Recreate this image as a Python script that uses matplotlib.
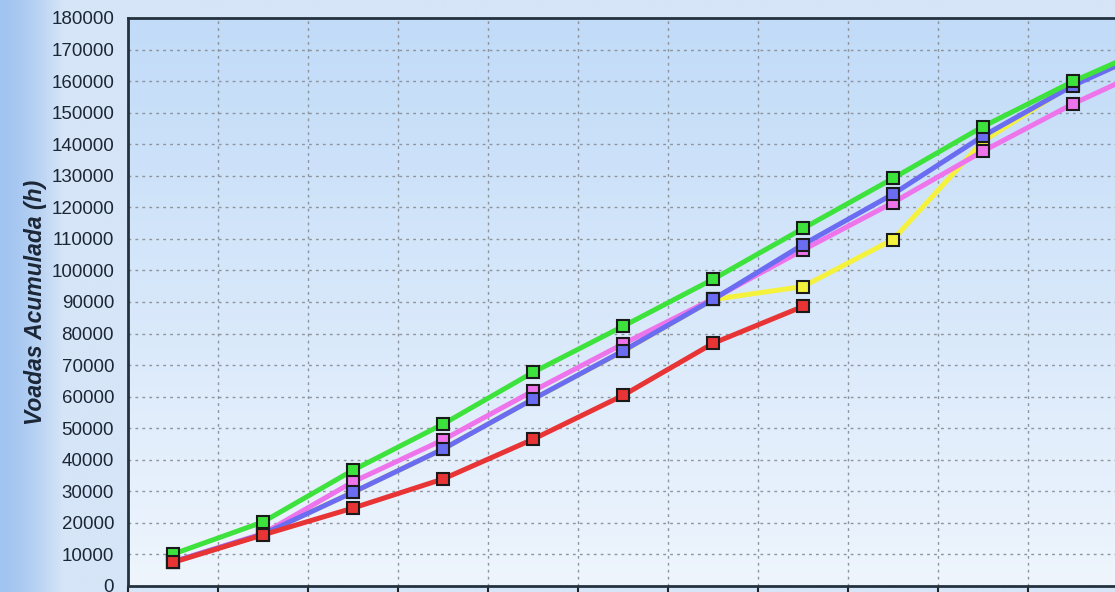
import numpy as np
import matplotlib
matplotlib.use("Agg")
import matplotlib.pyplot as plt
from matplotlib.colors import LinearSegmentedColormap

plt.rcParams['font.family'] = ['Liberation Sans', 'DejaVu Sans']

# ---- data ----
categories = list(range(12))
red     = [7500, 16200, 24700, 33900, 46500, 60400, 76900, 88600]
yellow  = [7600, 16500, 29700, 43400, 59200, 74400, 90800, 94900, 109800, 141000, 159000, 171000]
magenta = [7700, 16600, 33000, 46300, 61800, 76700, 91000, 106500, 121500, 137800, 152800, 166000]
blue    = [7600, 16400, 29700, 43400, 59200, 74500, 90800, 108200, 124200, 142600, 158600, 171500]
green   = [10100, 20300, 36700, 51300, 67700, 82300, 97200, 113300, 129200, 145600, 159900, 172500]
y_ticks = list(range(0, 180001, 10000))
ylabel = "Voadas Acumulada (h)"

W, H = 1115, 592
fig = plt.figure(figsize=(W / 100, H / 100), dpi=100)

# figure background gradient
bg = fig.add_axes([0, 0, 1, 1], zorder=-10)
bg.axis('off')
xs = np.linspace(0, 1, 400)
horiz = np.clip(xs / 0.055, 0, 1) ** 1.5
cmap_bg = LinearSegmentedColormap.from_list('bg', ['#a1c4f0', '#d6e5f7'])
bg.imshow(np.tile(horiz, (10, 1)), cmap=cmap_bg, aspect='auto', extent=[0, 1, 0, 1])
bg.set_xlim(0, 1); bg.set_ylim(0, 1)

left = 128 / W
bottom = 6 / H
top = 18 / H
ax = fig.add_axes([left, bottom, 1 - left, 1 - bottom - top])

# plot area gradient
cmap_pa = LinearSegmentedColormap.from_list('pa', ['#eef5fd', '#c1dbf8'])
grad = np.linspace(0, 1, 256).reshape(-1, 1)
ax.imshow(grad, cmap=cmap_pa, aspect='auto', extent=[0, 1, 0, 1],
          transform=ax.transAxes, origin='lower', zorder=0)
ax.set_axisbelow(True)

lw = 3.6
ms = 9
def draw(vals, color, z):
    xv = categories[:len(vals)]
    ax.plot(xv, vals, color=color, lw=lw, marker='s', markersize=ms,
            markerfacecolor=color, markeredgecolor='#1a1a1a', markeredgewidth=1.5,
            zorder=z, clip_on=True, solid_joinstyle='round')

draw(yellow, '#f4f23c', 3)
draw(magenta, '#ee74ec', 4)
draw(blue, '#6a6cf2', 5)
draw(green, '#3ee23c', 6)
draw(red, '#e83434', 7)

ax.set_yticks(y_ticks)
ax.set_yticklabels([str(v) for v in y_ticks])
ax.set_xticks(np.arange(-0.5, 12, 1.0))
ax.set_xticklabels([])
ax.set_xlim(-0.5, (W - 173) / 90.0)
ax.set_ylim(0, 180000)

ax.grid(True, which='major', color='#8d949c', linestyle=(0, (2, 3)), linewidth=1.0)
ax.tick_params(axis='y', length=0, pad=10, labelsize=13.5, labelcolor='#1b2636')
ax.tick_params(axis='x', length=8, width=1.5, direction='out', color='#222222')

for s in ['left', 'top', 'bottom']:
    ax.spines[s].set_color('#243240')
    ax.spines[s].set_linewidth(2)
ax.spines['right'].set_visible(False)

ax.set_ylabel(ylabel, fontsize=16.5, fontweight='bold', fontstyle='italic',
              color='#1b2636', labelpad=3)

fig.savefig('out.png', dpi=100)
